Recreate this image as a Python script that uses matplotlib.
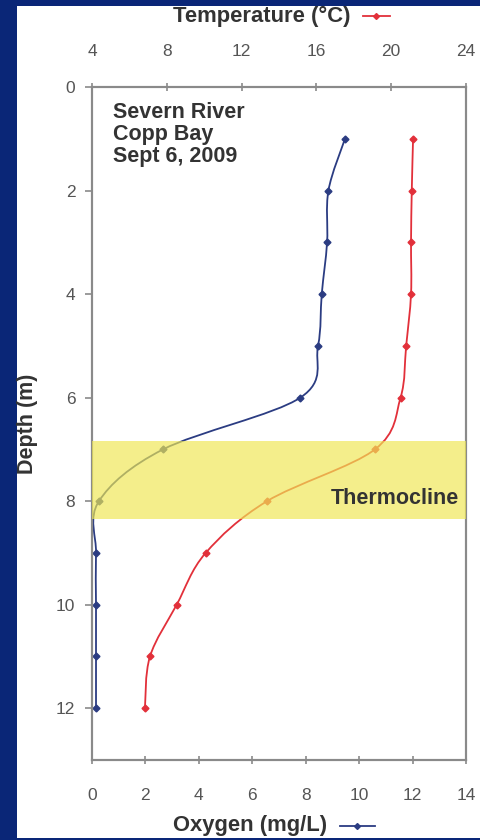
import matplotlib
matplotlib.use("Agg")
import matplotlib.pyplot as plt
import numpy as np
from matplotlib.path import Path
from matplotlib.patches import PathPatch, Rectangle
from matplotlib.lines import Line2D

plt.rcParams["font.family"] = ["Liberation Sans", "DejaVu Sans"]

# ---- data ------------------------------------------------------------------
depth = [1, 2, 3, 4, 5, 6, 7, 8, 9, 10, 11, 12]
oxygen = [9.47, 8.85, 8.8, 8.6, 8.46, 7.8, 2.66, 0.26, 0.15, 0.15, 0.15, 0.15]
temperature = [21.17, 21.1, 21.06, 21.06, 20.8, 20.5, 19.13, 13.36, 10.08, 8.53, 7.1, 6.83]
thermocline = (6.84, 8.35)
site_label = "Severn River\nCopp Bay\nSept 6, 2009"

BLUE = "#2b3c82"
RED = "#e2303a"
GRAY = "#555555"
DARK = "#333333"


def smooth_path(xs, ys):
    """Catmull-Rom style bezier through the points (like Excel smoothed lines)."""
    pts = np.column_stack([xs, ys]).astype(float)
    verts = [pts[0]]
    codes = [Path.MOVETO]
    n = len(pts)
    for i in range(n - 1):
        p0 = pts[max(i - 1, 0)]
        p1 = pts[i]
        p2 = pts[i + 1]
        p3 = pts[min(i + 2, n - 1)]
        c1 = p1 + (p2 - p0) / 6.0
        c2 = p2 - (p3 - p1) / 6.0
        verts += [c1, c2, p2]
        codes += [Path.CURVE4] * 3
    return Path(verts, codes)


fig = plt.figure(figsize=(4.81, 8.4), dpi=100)
fig.patch.set_facecolor("#0a2677")
# white slide panel
fig.patches.append(Rectangle((17 / 481, 2 / 840), 1 - 17 / 481, 832 / 840,
                             transform=fig.transFigure, facecolor="white",
                             edgecolor="none", zorder=-10))

ax = fig.add_axes([92 / 481, 1 - 760 / 840, (466 - 92) / 481, (760 - 87) / 840])
ax.set_facecolor("white")
ax.set_xlim(0, 14)
ax.set_ylim(13, 0)
ax.set_xticks(range(0, 15, 2))
ax.set_yticks(range(0, 13, 2))

ax2 = ax.twiny()
ax2.set_xlim(4, 24)
ax2.set_xticks(range(4, 25, 4))

# oxygen on bottom axis
ax.add_patch(PathPatch(smooth_path(oxygen, depth), facecolor="none",
                       edgecolor=BLUE, lw=1.3, zorder=2))
ax.plot(oxygen, depth, ls="none", marker="D", ms=3.5, color=BLUE, zorder=2)

# temperature on top axis
ax2.add_patch(PathPatch(smooth_path(temperature, depth), facecolor="none",
                        edgecolor=RED, lw=1.3, zorder=2))
ax2.plot(temperature, depth, ls="none", marker="D", ms=3.5, color=RED, zorder=2)

# thermocline band drawn over the lines
ax2.axhspan(thermocline[0], thermocline[1], color="#efe755", alpha=0.68,
            lw=0, zorder=3)
ax2.text(23.6, 7.95, "Thermocline", ha="right", va="center", fontsize=15.5,
         fontweight="bold", color=DARK, zorder=4)

ax.text(0.055, 0.978, site_label, transform=ax.transAxes, ha="left", va="top",
        fontsize=15.5, fontweight="bold", color=DARK, linespacing=1.08)

for a in (ax, ax2):
    for s in a.spines.values():
        s.set_color("#8a8a8a")
        s.set_linewidth(1.5)
ax.tick_params(axis="y", direction="out", length=5, width=1.2, color="#8a8a8a",
               labelsize=12.5, labelcolor=GRAY, pad=7)
ax.tick_params(axis="x", direction="inout", length=6, width=1.2, color="#8a8a8a",
               labelsize=12.5, labelcolor=GRAY, pad=17)
ax2.tick_params(axis="x", direction="inout", length=6, width=1.2, color="#8a8a8a",
                labelsize=12.5, labelcolor=GRAY, pad=17)

# axis titles with legend glyphs
fig.text(28 / 481, 1 - 424 / 840, "Depth (m)", rotation=90, ha="center",
         va="center", fontsize=15.5, fontweight="bold", color=DARK)
fig.text(262 / 481, 1 - 16 / 840, "Temperature (°C)", ha="center", va="center",
         fontsize=15.8, fontweight="bold", color=DARK)
fig.text(250 / 481, 1 - 826 / 840, "Oxygen (mg/L)", ha="center", va="center",
         fontsize=15.8, fontweight="bold", color=DARK)
fig.add_artist(Line2D([363 / 481, 390 / 481], [1 - 16 / 840] * 2, color=RED,
                      lw=1.3, transform=fig.transFigure))
fig.add_artist(Line2D([376 / 481], [1 - 16 / 840], color=RED, marker="D", ms=3,
                      transform=fig.transFigure))
fig.add_artist(Line2D([340 / 481, 375 / 481], [1 - 826 / 840] * 2, color=BLUE,
                      lw=1.3, transform=fig.transFigure))
fig.add_artist(Line2D([357 / 481], [1 - 826 / 840], color=BLUE, marker="D", ms=3,
                      transform=fig.transFigure))

fig.savefig("out.png", dpi=100, facecolor=fig.get_facecolor())
